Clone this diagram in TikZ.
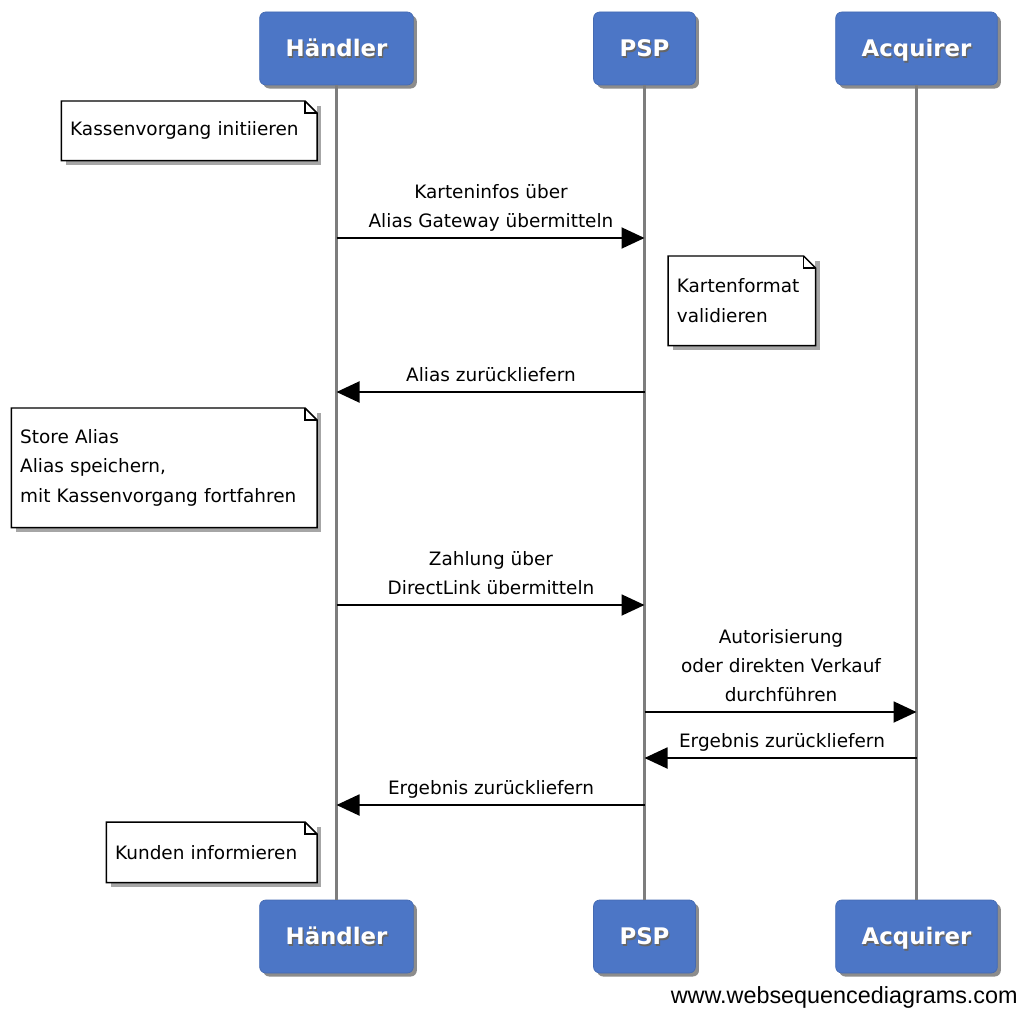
\documentclass[tikz,border=0pt]{standalone}
\usepackage{fontspec}
\setmainfont{DejaVu Sans}
\newfontfamily\footfont{Liberation Sans}
\usetikzlibrary{arrows.meta,shadows}

\definecolor{wsdblue}{RGB}{76,118,198}
\definecolor{lifegray}{RGB}{125,125,125}

% one pixel of the layout
\newcommand{\pxu}{0.02cm}
% white label with a dark shade under it
\newcommand{\shadetext}[1]{\makebox[0pt][l]{\hspace{0.7pt}\raisebox{-0.7pt}{\textcolor{black!60}{#1}}}#1}
% folded corner round a note
\newcommand{\dogear}[1]{%
  \draw[noteline] (#1.south west) -- (#1.south east) -- ([yshift=-12*\pxu]#1.north east)
    -- ([xshift=-12*\pxu]#1.north east) -- (#1.north west) -- cycle;
  \draw[noteline] ([xshift=-12*\pxu]#1.north east) |- ([yshift=-12*\pxu]#1.north east);
}

\tikzset{
  actor/.style={rectangle, rounded corners=3.5pt, fill=wsdblue, draw=wsdblue!90!black,
    text=white, font=\fontsize{13}{15}\selectfont\bfseries,
    minimum height=73*\pxu, inner xsep=0.52cm, text height=9.6pt, text depth=0pt,
    drop shadow={shadow xshift=2pt, shadow yshift=-2pt, fill=black, opacity=0.45}},
  lifeline/.style={draw=lifegray, line width=1.5pt},
  msg/.style={line width=1.1pt, -{Triangle[length=0.46cm,width=0.42cm]}},
  msgtext/.style={font=\fontsize{10.5}{16.5}\selectfont, align=center, anchor=south,
    text depth=0pt, inner ysep=0.2cm, inner xsep=0pt},
  notebox/.style={fill=white, font=\fontsize{10.5}{17}\selectfont, align=left,
    inner xsep=0.17cm, inner ysep=0pt,
    drop shadow={shadow xshift=2.5pt, shadow yshift=-2.5pt, fill=black, opacity=0.35}},
  noteline/.style={draw=black, line width=0.85pt}
}

\begin{document}
\begin{tikzpicture}[x=0.02cm,y=-0.02cm]
  \useasboundingbox (0,0) rectangle (1024,1010);

  % Participants
  \node[actor] (hTop) at (336.5,48.5) {\shadetext{Händler}};
  \node[actor] (pTop) at (644.5,48.5) {\shadetext{PSP}};
  \node[actor] (aTop) at (916.5,48.5) {\shadetext{Acquirer}};
  \node[actor] (hBot) at (336.5,936.5) {\shadetext{Händler}};
  \node[actor] (pBot) at (644.5,936.5) {\shadetext{PSP}};
  \node[actor] (aBot) at (916.5,936.5) {\shadetext{Acquirer}};

  % Lifelines
  \draw[lifeline] (hTop.south) -- (hBot.north);
  \draw[lifeline] (pTop.south) -- (pBot.north);
  \draw[lifeline] (aTop.south) -- (aBot.north);

  % Notes
  \node[notebox, anchor=north east, text width=4.76cm, minimum height=59*\pxu] (n1)
    at (317,101) {Kassenvorgang initiieren};
  \dogear{n1}
  \node[notebox, anchor=north west, text width=2.6cm, minimum height=89*\pxu] (n2)
    at (668,256) {Kartenformat\\validieren};
  \dogear{n2}
  \node[notebox, anchor=north east, text width=5.76cm, minimum height=119*\pxu] (n3)
    at (317,408) {Store Alias\\Alias speichern,\\mit Kassenvorgang fortfahren};
  \dogear{n3}
  \node[notebox, anchor=north east, text width=3.86cm, minimum height=60*\pxu] (n4)
    at (317,822) {Kunden informieren};
  \dogear{n4}

  % Messages
  \draw[msg] (hTop |- 0,238) -- (pTop |- 0,238);
  \node[msgtext] (t1) at (491,238) {Karteninfos über\\Alias Gateway übermitteln};
  \draw[msg] (pTop |- 0,392) -- (hTop |- 0,392);
  \node[msgtext] (t2) at (491,392) {Alias zurückliefern};
  \draw[msg] (hTop |- 0,605) -- (pTop |- 0,605);
  \node[msgtext] (t3) at (491,605) {Zahlung über\\DirectLink übermitteln};
  \draw[msg] (pTop |- 0,712) -- (aTop |- 0,712);
  \node[msgtext] (t4) at (781,712) {Autorisierung\\oder direkten Verkauf\\durchführen};
  \draw[msg] (aTop |- 0,758) -- (pTop |- 0,758);
  \node[msgtext] (t5) at (782,758) {Ergebnis zurückliefern};
  \draw[msg] (pTop |- 0,805) -- (hTop |- 0,805);
  \node[msgtext] (t6) at (491,805) {Ergebnis zurückliefern};

  % Footer
  \node[anchor=east, inner sep=0pt, font=\footfont\fontsize{13.3}{15}\selectfont] (foot)
    at (1018,997) {www.websequencediagrams.com};
\end{tikzpicture}
\end{document}
